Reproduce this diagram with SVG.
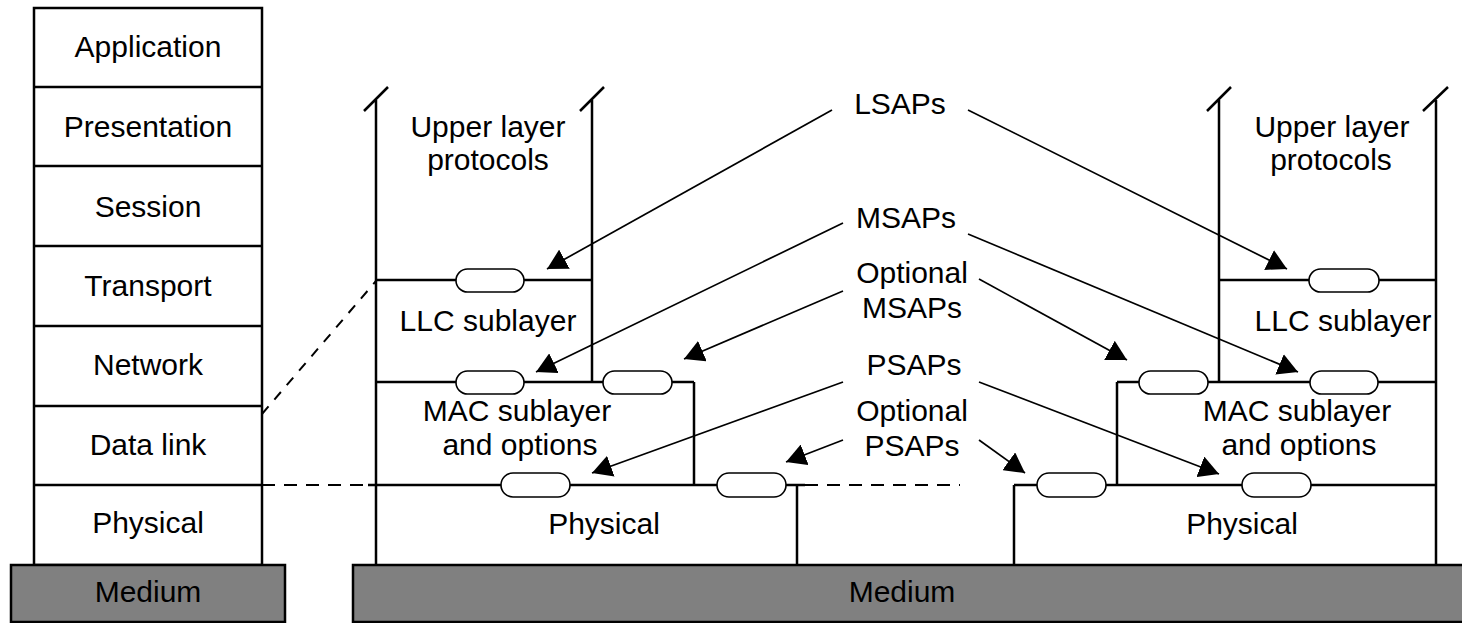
<svg xmlns="http://www.w3.org/2000/svg" width="1462" height="623" viewBox="0 0 1462 623">
<style>
text{font-family:"Liberation Sans",Arial,sans-serif;font-size:30px;fill:#000;text-anchor:middle}
.b{stroke:#000;stroke-width:2.5;fill:none}
.box{stroke:#000;stroke-width:2.5;fill:#fff}
.med{stroke:#000;stroke-width:2.5;fill:#808080}
.sap{stroke:#000;stroke-width:1.6;fill:#fff}
.d{stroke:#000;stroke-width:2;fill:none;stroke-dasharray:13 9}
.dd{stroke:#000;stroke-width:2;fill:none;stroke-dasharray:10 9}
.a{stroke:#000;stroke-width:1.7;fill:none;marker-end:url(#ah)}
</style>
<defs>
<marker id="ah" viewBox="0 0 20 22" refX="20" refY="11" markerWidth="20" markerHeight="22" markerUnits="userSpaceOnUse" orient="auto">
<path d="M0,0 L20,11 L0,22 z" fill="#000"/>
</marker>
</defs>
<rect width="1462" height="623" fill="#fff"/>

<g id="osi-stack">
<rect class="box" x="34" y="8" width="228" height="557"/>
<path class="b" d="M34,87H262M34,166H262M34,246H262M34,326H262M34,406H262M34,485H262"/>
<text x="148" y="57">Application</text>
<text x="148" y="137">Presentation</text>
<text x="148" y="217">Session</text>
<text x="148" y="296">Transport</text>
<text x="148" y="375">Network</text>
<text x="148" y="455">Data link</text>
<text x="148" y="533">Physical</text>
</g>
<g id="medium-left">
<rect class="med" x="11" y="565" width="274" height="57"/>
<text x="148" y="602">Medium</text>
</g>
<g id="medium-right">
<rect class="med" x="353" y="565" width="1112" height="57"/>
<text x="902" y="602">Medium</text>
</g>

<g id="station-left">
<path class="b" d="M376,100V565M592,100V382M364,111L388,87M580,111L604,87"/>
<path class="b" d="M376,280H592M376,382H694M694,382V485M368,485H805M797,485V565"/>
<text x="488" y="137">Upper layer</text>
<text x="488" y="170">protocols</text>
<text x="488" y="331">LLC sublayer</text>
<text x="517" y="421">MAC sublayer</text>
<text x="520" y="455">and options</text>
<text x="604" y="534">Physical</text>
<rect class="sap" x="456" y="269" width="68" height="23" rx="11.5"/>
<rect class="sap" x="456" y="371" width="68" height="23" rx="11.5"/>
<rect class="sap" x="603" y="371" width="69" height="23" rx="11.5"/>
<rect class="sap" x="501" y="473" width="69" height="24" rx="12"/>
<rect class="sap" x="717" y="473" width="69" height="24" rx="12"/>
</g>

<g id="station-right">
<path class="b" d="M1219,100V382M1436,100V565M1207,111L1231,87M1423,111L1448,87"/>
<path class="b" d="M1219,280H1436M1117,382H1436M1117,382V485M1014,485H1436M1014,485V565"/>
<text x="1332" y="137">Upper layer</text>
<text x="1331" y="170">protocols</text>
<text x="1343" y="331">LLC sublayer</text>
<text x="1297" y="421">MAC sublayer</text>
<text x="1299" y="455">and options</text>
<text x="1242" y="534">Physical</text>
<rect class="sap" x="1309" y="269" width="70" height="23" rx="11.5"/>
<rect class="sap" x="1139" y="371" width="69" height="23" rx="11.5"/>
<rect class="sap" x="1310" y="371" width="68" height="23" rx="11.5"/>
<rect class="sap" x="1037" y="473" width="69" height="24" rx="12"/>
<rect class="sap" x="1242" y="473" width="69" height="24" rx="12"/>
</g>

<g id="labels">
<text x="900" y="114">LSAPs</text>
<text x="906" y="228">MSAPs</text>
<text x="912" y="283">Optional</text>
<text x="912" y="318">MSAPs</text>
<text x="914" y="375">PSAPs</text>
<text x="912" y="421">Optional</text>
<text x="912" y="456">PSAPs</text>
</g>

<g id="connectors">
<path class="dd" d="M262,414L376,281"/>
<path class="d" d="M262,485H376"/>
<path class="d" d="M805,485H960"/>
<path class="a" d="M832,110L547,269"/>
<path class="a" d="M968,110L1287,269"/>
<path class="a" d="M843,223L536,372"/>
<path class="a" d="M968,234L1298,372"/>
<path class="a" d="M843,291L684,359"/>
<path class="a" d="M979,279L1127,360"/>
<path class="a" d="M843,382L592,473"/>
<path class="a" d="M979,382L1219,474"/>
<path class="a" d="M843,440L786,462"/>
<path class="a" d="M979,440L1025,473"/>
</g>
</svg>
